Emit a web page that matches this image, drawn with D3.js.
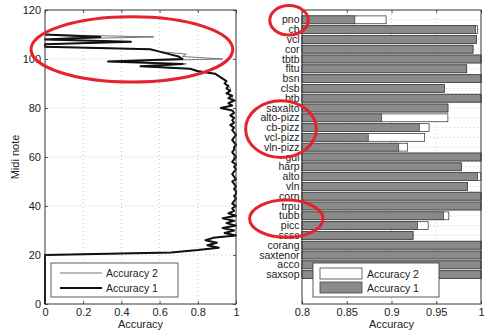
<!DOCTYPE html>
<html>
<head>
<meta charset="utf-8">
<script src="https://cdn.jsdelivr.net/npm/d3@7"></script>
<style>
  body { margin: 0; background: #fff; }
  text { font-family: "Liberation Sans", Arial, Helvetica, sans-serif; fill: #222; }
</style>
</head>
<body>
<svg id="chart" width="485" height="331"></svg>
<script>
// ---- Left panel: accuracy per MIDI note (index = MIDI note number) ----
const accuracy1 = [
  0, 0, 0, 0, 0, 0, 0, 0, 0, 0,
  0, 0, 0, 0, 0, 0, 0, 0, 0, 0,
  0, 0.66, 0.80, 0.91, 0.85, 0.90, 0.84, 0.88, 1.00, 0.94,
  0.99, 0.93, 1.00, 0.95, 0.99, 0.93, 1.00, 0.96, 0.99, 0.98,
  1.00, 0.98, 0.99, 1.00, 0.99, 1.00, 1.00, 0.99, 1.00, 0.99,
  0.98, 1.00, 0.99, 0.98, 0.99, 1.00, 0.99, 1.00, 0.98, 0.99,
  1.00, 0.99, 0.98, 0.99, 0.99, 1.00, 0.99, 0.98, 0.99, 1.00,
  0.99, 0.98, 0.99, 0.97, 0.99, 0.98, 0.99, 0.97, 0.99, 0.98,
  0.92, 0.98, 0.96, 0.99, 0.96, 0.98, 0.95, 0.97, 0.95, 0.96,
  0.94, 0.95, 0.93, 0.91, 0.89, 0.80, 0.76, 0.50, 0.72, 0.33,
  0.72, 0.70, 0.65, 0.60, 0.55, 0, 0, 0.45, 0, 0.29,
  0
];
const accuracy2 = [
  0, 0, 0, 0, 0, 0, 0, 0, 0, 0,
  0, 0, 0, 0, 0, 0, 0, 0, 0, 0,
  0, 0.66, 0.80, 0.91, 0.85, 0.90, 0.84, 0.88, 1.00, 0.95,
  0.99, 0.93, 1.00, 0.95, 0.99, 0.93, 1.00, 0.96, 0.99, 0.98,
  1.00, 0.98, 0.99, 1.00, 0.99, 1.00, 1.00, 0.99, 1.00, 0.99,
  0.98, 1.00, 0.99, 0.98, 0.99, 1.00, 0.99, 1.00, 0.98, 0.99,
  1.00, 0.99, 0.98, 0.99, 0.99, 1.00, 0.99, 0.98, 0.99, 1.00,
  0.99, 0.98, 0.99, 0.97, 0.99, 0.98, 0.99, 0.97, 0.99, 0.98,
  0.92, 0.98, 0.96, 1.00, 0.98, 0.98, 0.95, 0.97, 0.97, 0.96,
  0.94, 0.95, 0.93, 0.91, 0.89, 0.82, 0.76, 0.50, 0.74, 0.33,
  0.93, 0.72, 0.74, 0.60, 0.55, 0, 0, 0.45, 0, 0.57,
  0
];
const leftXTicks = [0, 0.2, 0.4, 0.6, 0.8, 1];
const leftYTicks = [0, 20, 40, 60, 80, 100, 120];

// ---- Right panel: accuracy per instrument ----
const instruments = [
  "pno", "cb", "vcl", "cor", "tbtb", "fltu", "bsn", "clsb", "btb", "saxalto",
  "alto-pizz", "cb-pizz", "vcl-pizz", "vln-pizz", "gui", "harp", "alto", "vln",
  "corn", "trpu", "tubb", "picc", "sssc", "corang", "saxtenor", "acco", "saxsop"
];
const instrAccuracy1 = [
  0.859, 0.994, 0.995, 0.991, 1.0, 0.984, 1.0, 0.959, 1.0, 0.963,
  0.889, 0.931, 0.874, 0.908, 1.0, 0.978, 0.996, 0.985,
  1.0, 1.0, 0.958, 0.929, 0.924, 1.0, 1.0, 1.0, 1.0
];
const instrAccuracy2 = [
  0.894, 0.996, 0.995, 0.991, 1.0, 0.984, 1.0, 0.959, 1.0, 0.963,
  0.963, 0.942, 0.937, 0.918, 1.0, 0.978, 1.0, 0.985,
  1.0, 1.0, 0.964, 0.941, 0.924, 1.0, 1.0, 1.0, 1.0
];
const rightXTicks = [0.8, 0.85, 0.9, 0.95, 1];
const seriesNames = ["Accuracy 2", "Accuracy 1"];

// Highlight rings, in data units of each panel
const leftRings = [{ acc: 0.455, midi: 103.9, rAcc: 0.528, rMidi: 13.3 }];
const rightRings = [
  { acc: 0.7855, pos: 1.05, rAcc: 0.0215, rPos: 1.5 },
  { acc: 0.7765, pos: 12.15, rAcc: 0.0395, rPos: 2.9 },
  { acc: 0.7825, pos: 21.3, rAcc: 0.041, rPos: 1.9 }
];

const svg = d3.select("#chart");
const fmt = d3.format("~g");
const frameColor = "#333";
const gridColor = "#b8b8b8";
const ringColor = "#e5232b";

function styleAxis(g, showLabels) {
  g.select(".domain").remove();
  g.selectAll(".tick line").attr("stroke", frameColor).attr("stroke-width", 0.8);
  g.selectAll(".tick text").style("font-size", "11px").attr("fill", "#222");
  if (!showLabels) g.selectAll(".tick text").remove();
}

// ================= LEFT PANEL =================
const lx = d3.scaleLinear([0, 1], [45, 236]);
const ly = d3.scaleLinear([0, 120], [304, 10]);
const left = svg.append("g");

// dotted grid
left.append("g").selectAll("line").data(leftXTicks.slice(1, -1)).join("line")
  .attr("x1", d => lx(d)).attr("x2", d => lx(d))
  .attr("y1", ly(0)).attr("y2", ly(120))
  .attr("stroke", gridColor).attr("stroke-width", 0.8).attr("stroke-dasharray", "1,3");
left.append("g").selectAll("line").data(leftYTicks.slice(1, -1)).join("line")
  .attr("x1", lx(0)).attr("x2", lx(1))
  .attr("y1", d => ly(d)).attr("y2", d => ly(d))
  .attr("stroke", gridColor).attr("stroke-width", 0.8).attr("stroke-dasharray", "1,3");

// curves
const curve1 = accuracy1.map((a, i) => ({ midi: i, acc: a }));
const curve2 = accuracy2.map((a, i) => ({ midi: i, acc: a }));
const lineGen = d3.line().x(d => lx(d.acc)).y(d => ly(d.midi));
left.append("path").datum(curve2).attr("d", lineGen)
  .attr("fill", "none").attr("stroke", "#666").attr("stroke-width", 0.9);
left.append("path").datum(curve1).attr("d", lineGen)
  .attr("fill", "none").attr("stroke", "#111").attr("stroke-width", 2)
  .attr("stroke-linejoin", "round");

// axes (ticks point inward)
left.append("g").attr("transform", `translate(0,${ly(0)})`)
  .call(d3.axisBottom(lx).tickValues(leftXTicks).tickFormat(fmt).tickSize(-3).tickPadding(4))
  .call(g => styleAxis(g, true));
left.append("g").attr("transform", `translate(0,${ly(120)})`)
  .call(d3.axisTop(lx).tickValues(leftXTicks).tickSize(-3))
  .call(g => styleAxis(g, false));
left.append("g").attr("transform", `translate(${lx(0)},0)`)
  .call(d3.axisLeft(ly).tickValues(leftYTicks).tickFormat(fmt).tickSize(-3).tickPadding(4))
  .call(g => styleAxis(g, true));
left.append("g").attr("transform", `translate(${lx(1)},0)`)
  .call(d3.axisRight(ly).tickValues(leftYTicks).tickSize(-3))
  .call(g => styleAxis(g, false));
left.append("rect")
  .attr("x", lx(0)).attr("y", ly(120))
  .attr("width", lx(1) - lx(0)).attr("height", ly(0) - ly(120))
  .attr("fill", "none").attr("stroke", frameColor).attr("stroke-width", 1);

left.append("text").attr("x", (lx(0) + lx(1)) / 2).attr("y", 328)
  .attr("text-anchor", "middle").style("font-size", "11px").text("Accuracy");
left.append("text")
  .attr("transform", `translate(19,${(ly(0) + ly(120)) / 2}) rotate(-90)`)
  .attr("text-anchor", "middle").style("font-size", "11px").text("Midi note");

// legend
const lLeg = left.append("g").attr("transform", "translate(51,263)");
lLeg.append("rect").attr("width", 127).attr("height", 34)
  .attr("fill", "#fff").attr("stroke", frameColor).attr("stroke-width", 0.8);
const lStyles = [{ stroke: "#666", w: 0.9 }, { stroke: "#111", w: 2 }];
seriesNames.forEach((name, i) => {
  const yy = 10 + i * 15;
  lLeg.append("line").attr("x1", 9).attr("x2", 51).attr("y1", yy).attr("y2", yy)
    .attr("stroke", lStyles[i].stroke).attr("stroke-width", lStyles[i].w);
  lLeg.append("text").attr("x", 55).attr("y", yy + 3.8)
    .style("font-size", "10.5px").text(name);
});

// rings
left.selectAll("ellipse.ring").data(leftRings).join("ellipse")
  .attr("cx", d => lx(d.acc)).attr("cy", d => ly(d.midi))
  .attr("rx", d => lx(d.rAcc) - lx(0)).attr("ry", d => ly(0) - ly(d.rMidi))
  .attr("fill", "none").attr("stroke", ringColor).attr("stroke-width", 3);

// ================= RIGHT PANEL =================
const rx = d3.scaleLinear([0.8, 1], [302, 481]);
const ry = d3.scaleLinear([0, 30], [10, 304]);
const right = svg.append("g");
const positions = instruments.map((_, i) => i + 1);
const barH = (ry(1) - ry(0)) * 0.8;

// dotted grid
right.append("g").selectAll("line").data(rightXTicks.slice(1, -1)).join("line")
  .attr("x1", d => rx(d)).attr("x2", d => rx(d))
  .attr("y1", ry(0)).attr("y2", ry(30))
  .attr("stroke", gridColor).attr("stroke-width", 0.8).attr("stroke-dasharray", "1,3");
right.append("g").selectAll("line").data(positions).join("line")
  .attr("x1", rx(0.8)).attr("x2", rx(1))
  .attr("y1", d => ry(d)).attr("y2", d => ry(d))
  .attr("stroke", gridColor).attr("stroke-width", 0.8).attr("stroke-dasharray", "1,3");

// bars: Accuracy 2 behind, Accuracy 1 in front
right.append("g").selectAll("rect").data(instrAccuracy2).join("rect")
  .attr("x", rx(0.8)).attr("y", (d, i) => ry(positions[i]) - barH / 2)
  .attr("width", d => rx(d) - rx(0.8)).attr("height", barH)
  .attr("fill", "#fff").attr("stroke", "#444").attr("stroke-width", 0.8);
right.append("g").selectAll("rect").data(instrAccuracy1).join("rect")
  .attr("x", rx(0.8)).attr("y", (d, i) => ry(positions[i]) - barH / 2)
  .attr("width", d => rx(d) - rx(0.8)).attr("height", barH)
  .attr("fill", "#8a8a8a").attr("stroke", "#444").attr("stroke-width", 0.8);

// axes
right.append("g").attr("transform", `translate(0,${ry(30)})`)
  .call(d3.axisBottom(rx).tickValues(rightXTicks).tickFormat(fmt).tickSize(-3).tickPadding(4))
  .call(g => styleAxis(g, true));
right.append("g").attr("transform", `translate(0,${ry(0)})`)
  .call(d3.axisTop(rx).tickValues(rightXTicks).tickSize(-3))
  .call(g => styleAxis(g, false));
right.append("rect")
  .attr("x", rx(0.8)).attr("y", ry(0))
  .attr("width", rx(1) - rx(0.8)).attr("height", ry(30) - ry(0))
  .attr("fill", "none").attr("stroke", frameColor).attr("stroke-width", 1);

right.append("g").selectAll("text").data(instruments).join("text")
  .attr("x", rx(0.8) - 2.5).attr("y", (d, i) => ry(positions[i]))
  .attr("dy", "0.35em").attr("text-anchor", "end")
  .style("font-size", "10.5px").text(d => d);

right.append("text").attr("x", (rx(0.8) + rx(1)) / 2).attr("y", 328)
  .attr("text-anchor", "middle").style("font-size", "11px").text("Accuracy");

// legend
const rLeg = right.append("g").attr("transform", "translate(313,263)");
rLeg.append("rect").attr("width", 126).attr("height", 34)
  .attr("fill", "#fff").attr("stroke", frameColor).attr("stroke-width", 0.8);
const rFills = ["#fff", "#8a8a8a"];
seriesNames.forEach((name, i) => {
  const yy = 5 + i * 14;
  rLeg.append("rect").attr("x", 7).attr("y", yy).attr("width", 42).attr("height", 11)
    .attr("fill", rFills[i]).attr("stroke", "#444").attr("stroke-width", 0.8);
  rLeg.append("text").attr("x", 54).attr("y", yy + 9.5)
    .style("font-size", "10.5px").text(name);
});

// rings
right.selectAll("ellipse.ring").data(rightRings).join("ellipse")
  .attr("cx", d => rx(d.acc)).attr("cy", d => ry(d.pos))
  .attr("rx", d => rx(0.8 + d.rAcc) - rx(0.8)).attr("ry", d => ry(d.rPos) - ry(0))
  .attr("fill", "none").attr("stroke", ringColor).attr("stroke-width", 3);
</script>
</body>
</html>
